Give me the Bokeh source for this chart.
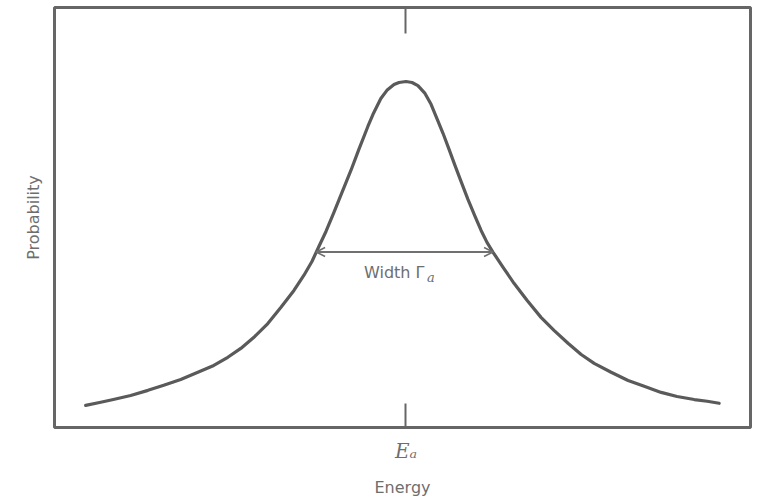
from bokeh.plotting import figure
from bokeh.models import Range1d, FixedTicker, Arrow, OpenHead, Label, LinearAxis
from bokeh.embed import file_html
from bokeh.resources import INLINE

# Resonance line shape: energy measured from the resonance centre in units of the width
energy = [-1.85, -1.763, -1.69, -1.59, -1.49, -1.399, -1.301, -1.202, -1.11, -1.029,
          -0.954, -0.873, -0.798, -0.723, -0.647, -0.59, -0.543, -0.503, -0.462, -0.416,
          -0.37, -0.318, -0.272, -0.22, -0.191, -0.145, -0.11, -0.069, -0.04, 0.0,
          0.035, 0.069, 0.11, 0.145, 0.179, 0.214, 0.249, 0.283, 0.318, 0.358,
          0.399, 0.434, 0.468, 0.503, 0.561, 0.624, 0.699, 0.78, 0.855, 0.936,
          1.012, 1.087, 1.185, 1.283, 1.376, 1.474, 1.566, 1.665, 1.74, 1.809]
probability = [0.050, 0.059, 0.067, 0.079, 0.094, 0.109, 0.126, 0.147, 0.167, 0.191,
               0.217, 0.252, 0.290, 0.337, 0.387, 0.431, 0.472, 0.516, 0.560, 0.616,
               0.674, 0.739, 0.801, 0.868, 0.903, 0.950, 0.974, 0.991, 0.997, 1.000,
               0.997, 0.988, 0.965, 0.933, 0.891, 0.848, 0.801, 0.754, 0.707, 0.654,
               0.604, 0.563, 0.528, 0.499, 0.455, 0.408, 0.358, 0.308, 0.270, 0.232,
               0.199, 0.173, 0.147, 0.123, 0.106, 0.088, 0.076, 0.067, 0.062, 0.056]

E_a = 0.0                     # resonance energy
half_max = 0.5                # level at which the width is measured
width_edges = [-0.519, 0.503] # energies where the curve crosses half maximum

INK = "#5a5a5a"
TXT = "#6e6e6e"

p = figure(width=765, height=501,
           x_range=Range1d(-2.03, 1.99), y_range=Range1d(-0.015, 1.217),
           output_backend="svg", toolbar_location=None,
           min_border_left=54, min_border_right=15,
           min_border_top=7, min_border_bottom=74,
           x_axis_location=None, y_axis_location=None)
p.grid.visible = False
p.outline_line_color = "#666666"
p.outline_line_width = 3
p.background_fill_color = "white"
p.border_fill_color = "white"

# bottom axis: single tick at the resonance energy
xb = LinearAxis(ticker=FixedTicker(ticks=[E_a]),
                major_label_overrides={E_a: "Eₐ"},
                axis_label="Energy")
xb.axis_line_color = None
xb.major_tick_in = 24
xb.major_tick_out = 0
xb.major_tick_line_color = "#666666"
xb.major_tick_line_width = 2
xb.minor_tick_line_color = None
xb.major_label_standoff = 11
xb.major_label_text_font = "DejaVu Serif"
xb.major_label_text_font_style = "italic"
xb.major_label_text_font_size = "20px"
xb.major_label_text_color = TXT
xb.axis_label_standoff = 12
xb.axis_label_text_font = "DejaVu Sans"
xb.axis_label_text_font_style = "normal"
xb.axis_label_text_font_size = "16px"
xb.axis_label_text_color = TXT
p.add_layout(xb, "below")

# top axis: the matching tick, no label
xt = LinearAxis(ticker=FixedTicker(ticks=[E_a]),
                major_label_overrides={E_a: ""})
xt.axis_line_color = None
xt.major_tick_in = 26
xt.major_tick_out = 0
xt.major_tick_line_color = "#666666"
xt.major_tick_line_width = 2
xt.minor_tick_line_color = None
xt.major_label_standoff = 0
p.add_layout(xt, "above")

# left axis: label only
yl = LinearAxis(ticker=FixedTicker(ticks=[]), axis_label="Probability")
yl.axis_line_color = None
yl.major_tick_line_color = None
yl.minor_tick_line_color = None
yl.axis_label_standoff = 12
yl.axis_label_text_font = "DejaVu Sans"
yl.axis_label_text_font_style = "normal"
yl.axis_label_text_font_size = "16px"
yl.axis_label_text_color = TXT
p.add_layout(yl, "left")

# the resonance curve
p.line(energy, probability, line_width=3.2, line_color=INK, line_join="round", line_cap="round")

# full width at half maximum
p.add_layout(Arrow(start=OpenHead(size=9, line_color="#707070", line_width=1.6),
                   end=OpenHead(size=9, line_color="#707070", line_width=1.6),
                   x_start=width_edges[0], y_start=half_max,
                   x_end=width_edges[1], y_end=half_max,
                   line_color="#707070", line_width=2))

p.add_layout(Label(x=E_a, y=half_max, x_offset=-42, y_offset=-30,
                   text="Width Γ", text_align="left",
                   text_font="DejaVu Sans", text_font_size="16px", text_color=TXT))
p.add_layout(Label(x=E_a, y=half_max, x_offset=21, y_offset=-33,
                   text="a", text_align="left",
                   text_font="DejaVu Serif", text_font_style="italic",
                   text_font_size="13px", text_color=TXT))

open("out.html", "w").write(file_html(p, INLINE))
